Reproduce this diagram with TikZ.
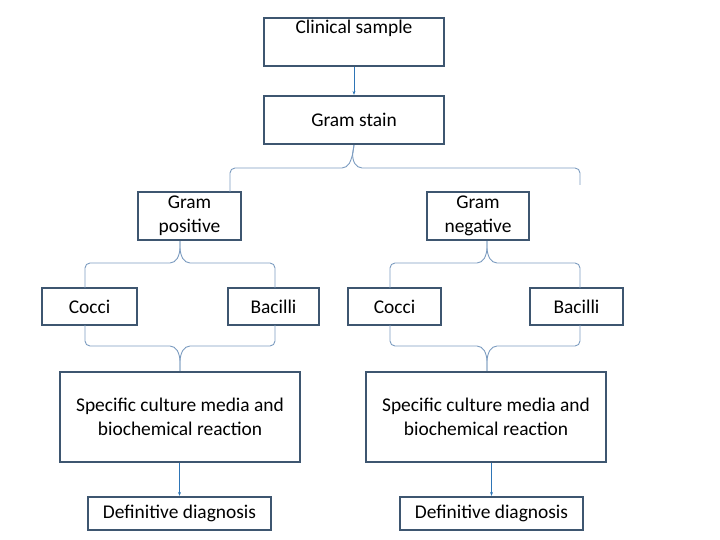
\documentclass[tikz,border=0pt]{standalone}
\usepackage{fontspec}
\setmainfont{Carlito}
\usetikzlibrary{arrows.meta}
\definecolor{bx}{HTML}{3E5670}
\definecolor{br}{HTML}{7C9CC0}
\definecolor{ar}{HTML}{2E75B6}
\begin{document}
\begin{tikzpicture}[x=1bp,y=-1bp,
 box/.style={draw=bx,line width=2.2bp,inner sep=0,align=center,font=\fontsize{19.5}{24}\selectfont},
 brc/.style={draw=br,line width=0.9bp,rounded corners=5bp},
 arw/.style={draw=ar,line width=0.9bp,-{Stealth[length=4bp,width=3bp]}}]
\useasboundingbox (0,0) rectangle (720,540);
\node[box,minimum width=180bp,minimum height=48bp] (cs) at (354,42) {Clinical sample\\[6bp]};
\node[box,minimum width=180bp,minimum height=48bp] (gs) at (354,120) {Gram stain};
\node[box,minimum width=103bp,minimum height=48bp] (gp) at (189.5,216) {Gram\\positive};
\node[box,minimum width=102bp,minimum height=48bp] (gn) at (478,216) {Gram\\negative};
\node[box,minimum width=95bp,minimum height=37bp] (c1) at (89.5,306.5) {Cocci};
\node[box,minimum width=91bp,minimum height=37bp] (b1) at (273.5,306.5) {Bacilli};
\node[box,minimum width=93bp,minimum height=37bp] (c2) at (394.5,306.5) {Cocci};
\node[box,minimum width=93bp,minimum height=37bp] (b2) at (576.5,306.5) {Bacilli};
\node[box,minimum width=240bp,minimum height=90bp] (s1) at (180,417) {Specific culture media and\\biochemical reaction};
\node[box,minimum width=240bp,minimum height=90bp] (s2) at (486,417) {Specific culture media and\\biochemical reaction};
\node[box,minimum width=183bp,minimum height=33bp] (d1) at (179.5,513.5) {Definitive diagnosis};
\node[box,minimum width=183bp,minimum height=33bp] (d2) at (491.5,513.5) {Definitive diagnosis};
\draw[arw] (cs) -- (gs);
\draw[arw] (s1.south -| d1) -- (d1);
\draw[arw] (s2.south -| d2) -- (d2);
% braces opening downward
\draw[brc] (230,192) -- (230,168) -- (347,168) -- (352,158) -- (gs.south);
\draw[brc] (580,185) -- (580,168) -- (357,168) -- (352,158) -- (gs.south);
\draw[brc] (85,288) -- (85,263) -- (175,263) -- (180,253) -- (gp.south -| 180,0);
\draw[brc] (275,288) -- (275,263) -- (185,263) -- (180,253) -- (gp.south -| 180,0);
\draw[brc] (390,288) -- (390,263) -- (482,263) -- (487,253) -- (gn.south -| 487,0);
\draw[brc] (580,288) -- (580,263) -- (492,263) -- (487,253) -- (gn.south -| 487,0);
% braces opening upward
\draw[brc] (85,325) -- (85,346) -- (175,346) -- (180,356) -- (s1.north);
\draw[brc] (275,325) -- (275,346) -- (185,346) -- (180,356) -- (s1.north);
\draw[brc] (390,325) -- (390,346) -- (482,346) -- (487,356) -- (s2.north -| 487,0);
\draw[brc] (580,325) -- (580,346) -- (492,346) -- (487,356) -- (s2.north -| 487,0);
\end{tikzpicture}
\end{document}
